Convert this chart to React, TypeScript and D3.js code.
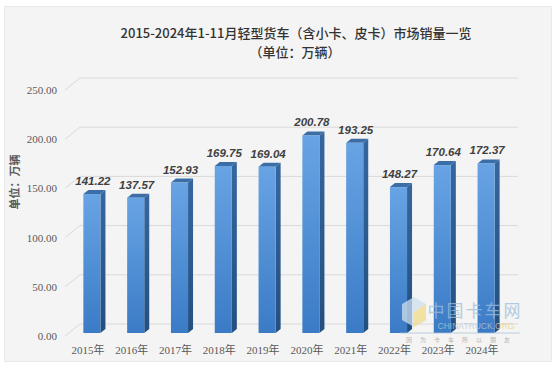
import React from "react";
import * as d3 from "d3";

// data
const years = ["2015年", "2016年", "2017年", "2018年", "2019年", "2020年", "2021年", "2022年", "2023年", "2024年"];
const sales = [141.22, 137.57, 152.93, 169.75, 169.04, 200.78, 193.25, 148.27, 170.64, 172.37];
const yTicks = [0, 50, 100, 150, 200, 250];

const titleLine1 = "2015-2024年1-11月轻型货车（含小卡、皮卡）市场销量一览";
const titleLine2 = "（单位：万辆）";
const yTitle = "单位：万辆";

const W = 556;
const H = 368;

// 3d offsets
const wallDx = 15;
const wallDy = -12;
const barDx = 5;
const barDy = -4;
const barLift = -3;

const x = d3.scaleBand<string>()
    .domain(years)
    .range([70, 508])
    .paddingInner(0.61)
    .paddingOuter(0.305);

const y = d3.scaleLinear().domain([0, 250]).range([336, 90]);

const App = () => {
    const left = 65;
    const right = 518;
    const bw = x.bandwidth();
    const barBottom = y(0) + barLift;

    return (
        <svg width={W} height={H} style={{position: "absolute", left: 0, top: 0}}>
            <defs>
                <linearGradient id="front" x1="0" y1="0" x2="0" y2="1">
                    <stop offset="0%" stopColor="#68a4e4"/>
                    <stop offset="100%" stopColor="#3b7bc6"/>
                </linearGradient>
                <linearGradient id="side" x1="0" y1="0" x2="0" y2="1">
                    <stop offset="0%" stopColor="#35679f"/>
                    <stop offset="100%" stopColor="#244f80"/>
                </linearGradient>
            </defs>
            <rect width={W} height={H} fill="#ffffff"/>
            <rect x={4.5} y={6.5} width={547} height={355} fill="#f4f4f4" stroke="#e8e8e8"/>

            {/* title */}
            <g fontFamily="'Noto Sans CJK SC', sans-serif" fill="#333333" textAnchor="middle" fontWeight={500}>
                <text x={296} y={38} fontSize={13}>{titleLine1}</text>
                <text x={295} y={57} fontSize={13}>{titleLine2}</text>
            </g>

            {/* back wall gridlines + floor */}
            <g stroke="#d9d9d9" fill="none">
                {yTicks.map(t => (
                    <polyline key={t}
                        points={`${left},${y(t)} ${left + wallDx},${y(t) + wallDy} ${right},${y(t) + wallDy}`}/>
                ))}
            </g>

            {/* y tick labels */}
            <g fontFamily="'Liberation Serif', serif" fontSize={11} fill="#595959" textAnchor="end">
                {yTicks.map(t => (
                    <text key={t} x={57} y={y(t) + 4}>{t.toFixed(2)}</text>
                ))}
            </g>

            <text transform={`translate(19, 182) rotate(-90)`} textAnchor="middle"
                  fontFamily="'Noto Sans CJK SC', sans-serif" fontSize={11} fontWeight="bold"
                  fill="#595959">{yTitle}</text>

            {/* bars */}
            {sales.map((v, i) => {
                const fx = x(years[i]) as number;
                const top = y(v) + barLift;
                return (
                    <g key={years[i]}>
                        <polygon fill="url(#side)"
                            points={`${fx + bw},${top} ${fx + bw + barDx},${top + barDy} ${fx + bw + barDx},${barBottom + barDy} ${fx + bw},${barBottom}`}/>
                        <polygon fill="#3b6da6"
                            points={`${fx},${top} ${fx + barDx},${top + barDy} ${fx + bw + barDx},${top + barDy} ${fx + bw},${top}`}/>
                        <rect x={fx} y={top} width={bw} height={barBottom - top} fill="url(#front)"/>
                        <text x={fx + bw / 2 + 1} y={top - 9} textAnchor="middle"
                              fontFamily="'Liberation Sans', Arial, sans-serif" fontSize={11.5}
                              fontWeight="bold" fontStyle="italic" fill="#404040">{v.toFixed(2)}</text>
                    </g>
                );
            })}

            {/* x labels */}
            <g fontFamily="'Liberation Serif', 'Noto Sans CJK SC', serif" fontSize={11} fill="#595959" textAnchor="middle">
                {years.map(c => (
                    <text key={c} x={(x(c) as number) + bw / 2 - 4} y={354}>{c}</text>
                ))}
            </g>

            {/* watermark */}
            <g opacity={0.75}>
                <polygon points="402,304 414,297 426,304 426,320 414,327 402,320" fill="#cfe0ee"/>
                <polygon points="414,312 426,304 426,320 414,327" fill="#f1dc8a"/>
                <text x={475} y={317} textAnchor="middle" fontFamily="'Noto Sans CJK SC', serif"
                      fontSize={17} fill="#9fbdd8" letterSpacing={2}>中国卡车网</text>
                <text x={476} y={329} textAnchor="middle" fontFamily="'Liberation Sans', sans-serif"
                      fontSize={8.5} fill="#b8c9d8">CHINATRUCK.<tspan fill="#e8cf8a">ORG</tspan></text>
                <line x1={400} y1={333} x2={520} y2={333} stroke="#a9c2d8"/>
                <text x={462} y={342} textAnchor="middle" fontFamily="'Noto Sans CJK SC', sans-serif"
                      fontSize={6} fill="#a0a0a0" letterSpacing={8}>因为卡车所以朋友</text>
            </g>
        </svg>
    );
};

export default App;
